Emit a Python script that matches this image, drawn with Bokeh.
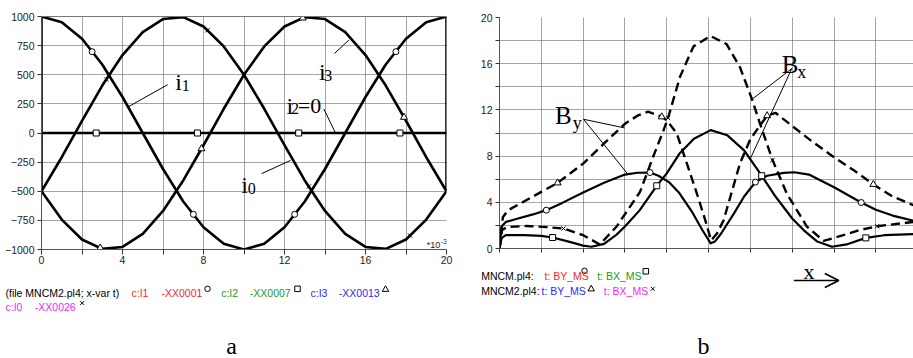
from bokeh.plotting import figure
from bokeh.layouts import row, column
from bokeh.models import Range1d, FixedTicker, LinearAxis, Label, Arrow, OpenHead
from bokeh.embed import file_html
from bokeh.resources import INLINE

# ---------------- panel a: phase currents over one period (t in ms) ----------------
t_ms = [0, 1, 2, 3, 4, 5, 6, 7, 8, 9, 10, 11, 12, 13, 14, 15, 16, 17, 18, 19, 20]
i1 = [1000, 951, 809, 588, 309, 0, -309, -588, -809, -951, -1000,
      -951, -809, -588, -309, 0, 309, 588, 809, 951, 1000]
i0 = [-500, -208, 105, 407, 669, 866, 978, 995, 914, 743, 500,
      208, -105, -407, -669, -866, -978, -995, -914, -743, -500]
i3 = [-500, -743, -914, -995, -978, -866, -669, -407, -105, 208, 500,
      743, 914, 995, 978, 866, 669, 407, 105, -208, -500]
i2 = [0, 0, 0, 0, 0, 0, 0, 0, 0, 0, 0, 0, 0, 0, 0, 0, 0, 0, 0, 0, 0]

# switching edges at the start and end of the window
edge_t = [[0, 0], [20, 20]]
edge_i = [[1000, -500], [-500, 1000]]

# curve markers
mk_i1_t = [2.5, 7.5, 12.5, 17.5]
mk_i1 = [698, -698, -698, 698]
mk_i2_t = [2.7, 7.7, 12.7, 17.7]
mk_i2 = [0, 0, 0, 0]
mk_i3_t = [2.9, 7.9, 12.9, 17.9]
mk_i3 = [-987, -135, 987, 135]
mk_i0_t = [3.2, 8.2, 13.2, 18.2]
mk_i0 = [459, 882, -459, -880]

t_ticks = [0, 4, 8, 12, 16, 20]
t_minor = [2, 6, 10, 14, 18]
i_ticks = [-1000, -750, -500, -250, 0, 250, 500, 750, 1000]

# ---------------- panel b: flux density components along x ----------------
by1_x = [0, 0.05, 0.15, 0.4, 0.8, 1.12, 1.5, 2.0, 2.5, 3.0, 3.3, 3.6, 3.8, 4.05, 4.3, 4.6,
         4.85, 5.05, 5.15, 5.3, 5.6, 5.85, 6.12, 6.4, 6.8, 7.05, 7.4, 8.0, 8.65, 9.0, 9.4, 9.9]
by1_y = [0, 1.9, 2.3, 2.55, 2.95, 3.32, 3.95, 4.85, 5.7, 6.4, 6.56, 6.58, 6.3, 5.75, 4.8, 3.2,
         1.6, 0.45, 0.6, 1.3, 3.0, 4.5, 5.75, 6.3, 6.55, 6.6, 6.4, 5.3, 3.98, 3.35, 2.85, 2.4]

bx1_x = [0, 0.05, 0.15, 0.6, 1.0, 1.27, 1.7, 2.0, 2.2, 2.5, 2.8, 3.0, 3.35, 3.76, 4.0, 4.3,
         4.65, 5.05, 5.45, 5.85, 6.27, 6.6, 7.0, 7.3, 7.6, 7.95, 8.3, 8.76, 9.2, 9.9]
bx1_y = [0, 0.9, 1.15, 1.15, 1.1, 0.95, 0.55, 0.25, 0.15, 0.4, 1.2, 1.9, 3.3, 5.43, 6.5, 8.2,
         9.5, 10.25, 9.8, 8.5, 6.3, 4.5, 2.6, 1.5, 0.6, 0.15, 0.35, 0.92, 1.15, 1.25]

by2_x = [0, 0.08, 0.2, 0.65, 1.0, 1.39, 2.0, 2.5, 3.0, 3.3, 3.55, 3.88, 4.0, 4.24, 4.48, 4.72,
         4.92, 5.06, 5.2, 5.36, 5.52, 5.75, 5.99, 6.15, 6.4, 6.6, 7.0, 7.5, 8.0, 8.5, 8.94, 9.4, 9.9]
by2_y = [0, 2.7, 3.3, 4.2, 4.9, 5.68, 7.35, 9.1, 10.8, 11.5, 11.85, 11.4, 11.1, 9.96, 7.36, 4.76,
         2.45, 0.7, 1.3, 2.45, 4.47, 7.36, 9.4, 10.25, 11.5, 11.75, 10.6, 9.2, 7.9, 6.7, 5.55, 4.5, 3.75]

bx2_x = [0, 0.06, 0.18, 0.65, 1.13, 1.53, 2.0, 2.4, 2.8, 3.36, 3.68, 3.92, 4.03, 4.32, 4.64,
         5.04, 5.43, 5.75, 6.03, 6.23, 6.53, 6.87, 7.35, 7.75, 8.22, 8.62, 9.03, 9.9]
bx2_y = [0, 1.6, 1.85, 1.95, 1.85, 1.73, 1.15, 0.35, 1.9, 4.9, 8.0, 10.2, 11.3, 14.9, 17.5,
         18.4, 17.7, 15.7, 13.0, 10.8, 7.65, 4.76, 1.9, 0.66, 1.15, 1.6, 1.93, 2.3]

mk_by1_x = [1.12, 3.6, 6.12, 8.65]
mk_by1 = [3.32, 6.58, 5.75, 3.98]
mk_bx1_x = [1.27, 3.76, 6.27, 8.76]
mk_bx1 = [0.95, 5.43, 6.3, 0.92]
mk_by2_x = [1.39, 3.88, 6.4, 8.94]
mk_by2 = [5.68, 11.4, 11.5, 5.55]
mk_bx2_x = [1.53, 4.03, 6.53, 9.03]
mk_bx2 = [1.73, 11.3, 7.65, 1.93]

x_ticks = [0, 1, 2, 3, 4, 5, 6, 7, 8, 9]
b_ticks = [0, 4, 8, 12, 16, 20]
b_minor = [2, 6, 10, 14, 18]

SANS = "Liberation Sans"
SERIF = "Liberation Serif"
RED, GREEN, BLUE, MAGENTA = "#f02828", "#229922", "#2b2bf0", "#f028f0"
GRID = "#4a4a4a"
MK = dict(line_color="black", fill_color="white", line_width=1)


def free_frame(p):
    # keep each plot's frame independent of its neighbours in the layout
    try:
        p.frame_align = False
    except AttributeError:
        pass


def style_axes(p):
    p.outline_line_color = None
    p.background_fill_color = "white"
    p.border_fill_color = "white"
    for ax in (p.xaxis[0], p.yaxis[0]):
        ax.axis_line_color = "#555555"
        ax.axis_line_width = 1
        ax.major_tick_line_color = "#333333"
        ax.minor_tick_line_color = "#333333"
        ax.major_tick_in = 0
        ax.minor_tick_in = 0
        ax.major_label_text_font = SANS
        ax.major_label_text_font_size = "10.5px"
        ax.major_label_text_color = "#222222"
    p.xaxis.major_tick_out = 5
    p.xaxis.minor_tick_out = 5
    p.yaxis.major_tick_out = 4
    p.yaxis.minor_tick_out = 4
    p.xaxis.major_label_standoff = 1
    p.yaxis.major_label_standoff = 3
    for g in (p.xgrid[0], p.ygrid[0]):
        g.grid_line_color = GRID
        g.grid_line_dash = "1 1"
        g.grid_line_width = 1
        g.minor_grid_line_color = GRID
        g.minor_grid_line_dash = "1 1"
        g.minor_grid_line_width = 1
    free_frame(p)


def label(p, x, y, text, size, font=SANS, color="black",
          baseline="alphabetic", align="left"):
    p.add_layout(Label(x=x, y=y, text=text,
                       text_font=font, text_font_size=size, text_color=color,
                       text_baseline=baseline, text_align=align))


def caption_strip(width, height):
    """Blank strip under a panel for the file/legend lines and the panel letter."""
    s = figure(width=width, height=height, x_range=Range1d(0, width), y_range=Range1d(height, 0),
               output_backend="svg", toolbar_location=None, x_axis_location=None,
               y_axis_location=None, min_border=0)
    s.grid.visible = False
    s.outline_line_color = None
    s.background_fill_color = "white"
    s.border_fill_color = "white"
    free_frame(s)
    return s


# ================= panel a =================
pa = figure(width=460, height=268, x_range=Range1d(0, 20), y_range=Range1d(-1000, 1000),
            output_backend="svg", toolbar_location=None,
            min_border_left=41, min_border_right=14, min_border_top=16, min_border_bottom=19)
style_axes(pa)
pa.xaxis.ticker = FixedTicker(ticks=t_ticks, minor_ticks=t_minor)
pa.yaxis.ticker = FixedTicker(ticks=i_ticks, minor_ticks=[])
pa.yaxis.minor_tick_line_color = None

top = LinearAxis(ticker=FixedTicker(ticks=[]), axis_line_color="#777777",
                 major_tick_line_color=None, minor_tick_line_color=None)
pa.add_layout(top, "above")

for ys in (i1, i0, i3, i2):
    pa.line(t_ms, ys, line_color="black", line_width=2.6, line_join="round")
pa.multi_line(edge_t, edge_i, line_color="black", line_width=2.6)

pa.scatter(mk_i1_t, mk_i1, marker="circle", size=6, **MK)
pa.scatter(mk_i2_t, mk_i2, marker="square", size=6, **MK)
pa.scatter(mk_i3_t, mk_i3, marker="triangle", size=7, **MK)
pa.scatter(mk_i0_t, mk_i0, marker="x", size=6, line_color="black", line_width=1)

# leader lines for the curve names
pa.segment(x0=[6.23, 14.47, 13.94, 10.87], y0=[415, 683, 207, -349],
           x1=[4.31, 15.18, 14.52, 12.3], y1=[227, 798, 0, -235],
           line_color="black", line_width=1)

label(pa, 6.60, 440, "i", "24px", SERIF)
label(pa, 6.93, 410, "1", "16px", SERIF)
label(pa, 13.70, 520, "i", "24px", SERIF)
label(pa, 13.96, 490, "3", "16px", SERIF)
label(pa, 12.10, 235, "i", "24px", SERIF)
label(pa, 12.32, 208, "2", "16px", SERIF)
label(pa, 12.66, 235, "=0", "22px", SERIF)
label(pa, 9.87, -449, "i", "24px", SERIF)
label(pa, 10.18, -478, "0", "16px", SERIF)
# time scale factor of the t axis
label(pa, 19.03, -963, "*10", "9px", SANS, "#222222")
label(pa, 19.72, -935, "-3", "7px", SANS, "#222222")

la = caption_strip(460, 90)
for x, txt, col in [(5, "(file MNCM2.pl4; x-var t)", "black"),
                    (131, "c:I1", RED), (161, "-XX0001", RED),
                    (220.7, "c:I2", GREEN), (249.3, "-XX0007", GREEN),
                    (310, "c:I3", BLUE), (338.3, "-XX0013", BLUE)]:
    label(la, x, 24.7, txt, "10.5px", color=col, baseline="middle")
label(la, 5, 38.7, "c:I0", "10.5px", color=MAGENTA, baseline="middle")
label(la, 34.3, 38.7, "-XX0026", "10.5px", color=MAGENTA, baseline="middle")
la.scatter([207], [20.3], marker="circle", size=5.5, **MK)
la.scatter([297], [20.3], marker="square", size=5.5, **MK)
la.scatter([385], [21], marker="triangle", size=6.5, **MK)
la.scatter([81.7], [34.5], marker="x", size=5.5, line_color="black", line_width=1)
label(la, 231, 77, "a", "24px", SERIF, baseline="middle", align="center")

# ================= panel b =================
pb = figure(width=453, height=257, x_range=Range1d(0, 9.9), y_range=Range1d(0, 20),
            output_backend="svg", toolbar_location=None,
            min_border_left=39, min_border_right=0, min_border_top=17, min_border_bottom=9)
style_axes(pb)
pb.xaxis.ticker = FixedTicker(ticks=x_ticks, minor_ticks=[])
pb.xaxis.major_label_overrides = {t: "" for t in x_ticks}
pb.xaxis.major_label_standoff = 0
pb.xaxis.minor_tick_line_color = None
pb.xaxis.major_tick_out = 4
pb.yaxis.ticker = FixedTicker(ticks=b_ticks, minor_ticks=b_minor)

pb.line(by1_x, by1_y, line_color="black", line_width=2.2, line_join="round")
pb.line(bx1_x, bx1_y, line_color="black", line_width=2.2, line_join="round")
pb.line(by2_x, by2_y, line_color="black", line_width=2.4, line_dash="9 5")
pb.line(bx2_x, bx2_y, line_color="black", line_width=2.4, line_dash="9 5")

pb.scatter(mk_by1_x, mk_by1, marker="circle", size=6, **MK)
pb.scatter(mk_bx1_x, mk_bx1, marker="square", size=6, **MK)
pb.scatter(mk_by2_x, mk_by2, marker="triangle", size=7, **MK)
pb.scatter(mk_bx2_x, mk_bx2, marker="x", size=6, line_color="black", line_width=1)

pb.segment(x0=[2.01, 2.01, 6.99, 6.99], y0=[11.19, 11.19, 15.58, 15.58],
           x1=[2.99, 3.07, 6.03, 5.99], y1=[10.44, 6.43, 12.9, 7.71],
           line_color="black", line_width=1)

label(pb, 1.33, 11.54, "B", "25px", SERIF)
label(pb, 1.75, 10.9, "y", "18px", SERIF)
label(pb, 6.75, 15.96, "B", "25px", SERIF)
label(pb, 7.12, 15.3, "x", "18px", SERIF)

lb = caption_strip(453, 101)
label(lb, 20.7, 18, "MNCM.pl4:", "10.5px", baseline="middle")
label(lb, 84, 18, "t: BY_MS", "10.5px", color=RED, baseline="middle")
label(lb, 136.7, 18, "t: BX_MS", "10.5px", color=GREEN, baseline="middle")
label(lb, 20.7, 33, "MNCM2.pl4:", "10.5px", baseline="middle")
label(lb, 81, 33, "t: BY_MS", "10.5px", color=BLUE, baseline="middle")
label(lb, 143.3, 33, "t: BX_MS", "10.5px", color=MAGENTA, baseline="middle")
lb.scatter([124], [13.3], marker="circle", size=5.5, **MK)
lb.scatter([185.3], [13.8], marker="square", size=5.5, **MK)
lb.scatter([130.7], [31.5], marker="triangle", size=6.5, **MK)
lb.scatter([192.3], [31.3], marker="x", size=5.5, line_color="black", line_width=1)
label(lb, 243, 88, "b", "24px", SERIF, baseline="middle", align="center")
label(lb, 343, 14, "x", "22px", SERIF)
lb.add_layout(Arrow(end=OpenHead(size=14, line_width=1.6, line_color="black"),
                    x_start=333.3, y_start=23, x_end=378.3, y_end=23,
                    line_width=1.6, line_color="black"))

layout = row(column(pa, la, spacing=0), column(pb, lb, spacing=0), spacing=0)
open("out.html", "w").write(file_html(layout, INLINE))
